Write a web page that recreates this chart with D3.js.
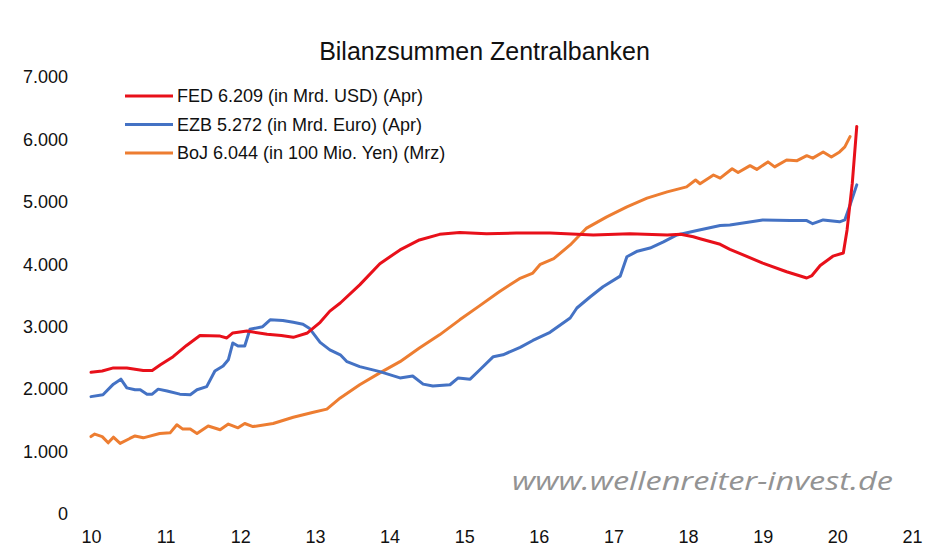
<!DOCTYPE html>
<html>
<head>
<meta charset="utf-8">
<script src="https://cdn.jsdelivr.net/npm/d3@7"></script>
<style>
  body { margin: 0; background: #fff; }
  svg { display: block; font-family: "Liberation Sans", Arial, sans-serif; }
</style>
</head>
<body>
<svg id="chart" width="940" height="558"></svg>
<script>
// [Jahr, Wert]
const fed = [
  [2010.00, 2270], [2010.15, 2290], [2010.30, 2340], [2010.48, 2340], [2010.70, 2300],
  [2010.82, 2300], [2010.93, 2390], [2011.10, 2520], [2011.28, 2700], [2011.46, 2860],
  [2011.73, 2850], [2011.82, 2820], [2011.90, 2900], [2012.09, 2930], [2012.36, 2880],
  [2012.55, 2860], [2012.71, 2830], [2012.90, 2900], [2013.07, 3070], [2013.20, 3250],
  [2013.34, 3380], [2013.60, 3670], [2013.87, 4010], [2014.14, 4230], [2014.40, 4390],
  [2014.67, 4480], [2014.94, 4510], [2015.30, 4490], [2015.70, 4500], [2016.15, 4500],
  [2016.73, 4470], [2017.22, 4490], [2017.72, 4470], [2017.90, 4480], [2018.07, 4440],
  [2018.16, 4410], [2018.43, 4320], [2018.56, 4240], [2019.00, 4020], [2019.32, 3880],
  [2019.59, 3780], [2019.66, 3820], [2019.77, 3980], [2019.94, 4130], [2020.08, 4180],
  [2020.13, 4550], [2020.20, 5300], [2020.26, 6209]
];

const ezb = [
  [2010.00, 1880], [2010.16, 1910], [2010.30, 2080], [2010.40, 2160], [2010.48, 2020],
  [2010.59, 1990], [2010.66, 1990], [2010.75, 1920], [2010.82, 1920], [2010.90, 2000],
  [2011.02, 1970], [2011.19, 1920], [2011.33, 1910], [2011.42, 1990], [2011.55, 2040],
  [2011.66, 2290], [2011.77, 2370], [2011.84, 2470], [2011.90, 2740], [2011.97, 2690],
  [2012.06, 2690], [2012.13, 2960], [2012.30, 3000], [2012.40, 3110], [2012.57, 3100],
  [2012.71, 3070], [2012.84, 3040], [2012.93, 2970], [2013.07, 2750], [2013.20, 2630],
  [2013.34, 2550], [2013.43, 2440], [2013.60, 2360], [2013.87, 2280], [2014.14, 2180],
  [2014.31, 2210], [2014.45, 2080], [2014.58, 2050], [2014.81, 2070], [2014.92, 2180],
  [2015.08, 2160], [2015.21, 2310], [2015.39, 2520], [2015.52, 2550], [2015.75, 2670],
  [2015.92, 2780], [2016.15, 2910], [2016.42, 3140], [2016.51, 3300], [2016.69, 3480],
  [2016.86, 3640], [2017.09, 3810], [2017.18, 4120], [2017.32, 4210], [2017.49, 4260],
  [2017.67, 4360], [2017.85, 4470], [2018.12, 4540], [2018.43, 4620], [2018.56, 4630],
  [2019.00, 4710], [2019.37, 4700], [2019.59, 4700], [2019.67, 4650], [2019.81, 4710],
  [2020.03, 4680], [2020.10, 4710], [2020.17, 4950], [2020.26, 5272]
];

const boj = [
  [2010.00, 1240], [2010.05, 1280], [2010.15, 1240], [2010.23, 1140], [2010.30, 1230],
  [2010.39, 1130], [2010.52, 1210], [2010.59, 1250], [2010.70, 1220], [2010.92, 1290],
  [2011.06, 1300], [2011.15, 1430], [2011.23, 1360], [2011.33, 1360], [2011.42, 1290],
  [2011.57, 1410], [2011.73, 1350], [2011.84, 1440], [2011.97, 1380], [2012.06, 1450],
  [2012.17, 1400], [2012.44, 1450], [2012.71, 1550], [2012.98, 1630], [2013.16, 1680],
  [2013.34, 1860], [2013.60, 2070], [2013.87, 2260], [2014.14, 2440], [2014.40, 2660],
  [2014.67, 2870], [2014.94, 3110], [2015.20, 3330], [2015.47, 3560], [2015.74, 3770],
  [2015.92, 3860], [2016.02, 4000], [2016.20, 4090], [2016.42, 4310], [2016.64, 4580],
  [2016.91, 4760], [2017.18, 4920], [2017.45, 5060], [2017.72, 5160], [2017.98, 5240],
  [2018.10, 5350], [2018.16, 5290], [2018.34, 5430], [2018.43, 5380], [2018.59, 5530],
  [2018.67, 5470], [2018.83, 5580], [2018.92, 5520], [2019.07, 5640], [2019.16, 5560],
  [2019.32, 5670], [2019.46, 5660], [2019.59, 5740], [2019.67, 5700], [2019.81, 5800],
  [2019.92, 5720], [2020.03, 5800], [2020.10, 5880], [2020.17, 6044]
];

const seriesNames = [
  'FED 6.209 (in Mrd. USD) (Apr)',
  'EZB 5.272 (in Mrd. Euro) (Apr)',
  'BoJ 6.044 (in 100 Mio. Yen) (Mrz)'
];
const yTicks = [0, 1000, 2000, 3000, 4000, 5000, 6000, 7000];
const xTicks = [2010, 2011, 2012, 2013, 2014, 2015, 2016, 2017, 2018, 2019, 2020, 2021];

const colors = ['#e8101a', '#4472c4', '#ed7d31'];

const svg = d3.select('#chart');

const x = d3.scaleLinear().domain([2010, 2021]).range([91, 912]);
const y = d3.scaleLinear().domain([0, 7000]).range([514, 77]);

const de = d3.formatLocale({ decimal: ',', thousands: '.', grouping: [3], currency: ['', ' €'] });

// Achsen ohne Linien, nur Beschriftung
const yAxis = d3.axisLeft(y).tickValues(yTicks).tickSize(0).tickPadding(2).tickFormat(de.format(','));
const xAxis = d3.axisBottom(x).tickValues(xTicks).tickSize(0).tickPadding(16).tickFormat(d => d - 2000);

svg.append('g')
    .attr('transform', 'translate(70,0)')
    .call(yAxis)
    .call(g => g.select('.domain').remove())
    .selectAll('text')
    .attr('font-size', 18)
    .attr('font-family', '"Liberation Sans", Arial, sans-serif')
    .attr('fill', '#111');

svg.append('g')
    .attr('transform', 'translate(0,514)')
    .call(xAxis)
    .call(g => g.select('.domain').remove())
    .selectAll('text')
    .attr('font-size', 18)
    .attr('font-family', '"Liberation Sans", Arial, sans-serif')
    .attr('fill', '#111');

// Wasserzeichen
svg.append('text')
    .attr('x', 512)
    .attr('y', 490)
    .attr('font-family', '"Open Sans", "DejaVu Sans", sans-serif')
    .attr('font-style', 'italic')
    .attr('font-size', 25)
    .attr('fill', '#939393')
    .attr('textLength', 381)
    .attr('lengthAdjust', 'spacingAndGlyphs')
    .text('www.wellenreiter-invest.de');

const line = d3.line()
    .x(d => x(d[0]))
    .y(d => y(d[1]));

// BoJ zuerst, FED oben
const order = [2, 1, 0];
const allSeries = [fed, ezb, boj];
order.forEach(i => {
    svg.append('path')
        .datum(allSeries[i])
        .attr('fill', 'none')
        .attr('stroke', colors[i])
        .attr('stroke-width', 3)
        .attr('stroke-linejoin', 'round')
        .attr('stroke-linecap', 'round')
        .attr('d', line);
});

// Titel
svg.append('text')
    .attr('x', 484.5)
    .attr('y', 60)
    .attr('text-anchor', 'middle')
    .attr('font-size', 25)
    .attr('fill', '#111')
    .text('Bilanzsummen Zentralbanken');

// Legende
const legend = svg.append('g').attr('transform', 'translate(125,96)');
seriesNames.forEach((name, i) => {
    const row = legend.append('g').attr('transform', `translate(0,${i * 28.5})`);
    row.append('line')
        .attr('x1', 0).attr('x2', 48)
        .attr('stroke', colors[i])
        .attr('stroke-width', 3);
    row.append('text')
        .attr('x', 52)
        .attr('dy', '0.36em')
        .attr('font-size', 18)
        .attr('fill', '#111')
        .text(name);
});
</script>
</body>
</html>
